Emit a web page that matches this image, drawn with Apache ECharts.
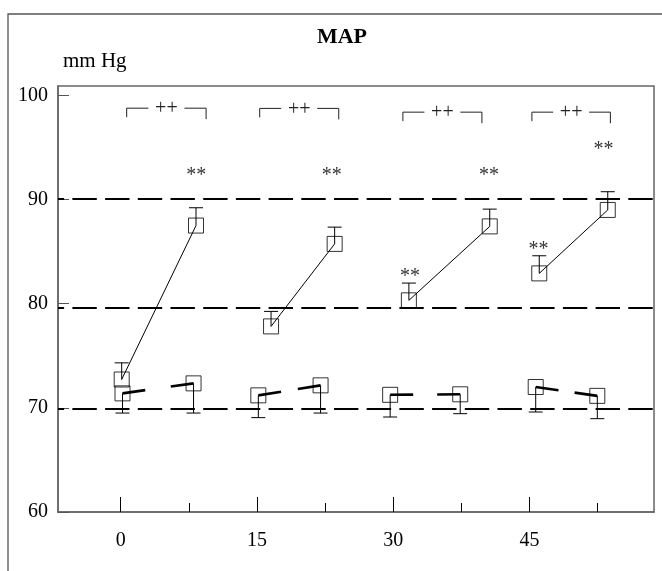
<!DOCTYPE html>
<html><head><meta charset="utf-8">
<script src="https://cdn.jsdelivr.net/npm/echarts@6/dist/echarts.min.js"></script>
<style>html,body{margin:0;padding:0;background:#fff}#c{width:662px;height:571px}</style>
</head><body><div id="c"></div>
<script>
const FONT = "'Liberation Serif', 'Times New Roman', Times, serif";

// axis ticks / labels
const timeTicks = [0, 15, 30, 45];
const minorTicks = [7.5, 22.5, 37.5, 52.5];
const yTicks = [60, 70, 80, 90, 100];
const refLines = [69.9, 79.6, 90.1];

// upper group (open squares, thin line, SD upward)
const upperX    = [0.11, 8.29, 16.55, 23.55, 31.72, 40.62, 46.07, 53.61];
const upperMean = [72.72, 87.5, 77.82, 85.74, 80.32, 87.42, 82.91, 89.0];
const upperSD   = [74.32, 89.21, 79.26, 87.35, 81.98, 89.08, 84.6, 90.75];

// lower group (open squares, thick broken line, SD downward)
const lowerX    = [0.2, 8.02, 15.15, 22.0, 29.66, 37.37, 45.68, 52.46];
const lowerMean = [71.39, 72.35, 71.2, 72.16, 71.25, 71.3, 72.0, 71.15];
const lowerSD   = [69.5, 69.5, 69.06, 69.5, 69.12, 69.44, 69.6, 68.96];

// significance annotations
const bracketStart = [0.66, 15.3, 31.06, 45.26];
const bracketEnd   = [9.4, 24.0, 39.76, 53.9];
const bracketY     = [98.77, 98.75, 98.39, 98.39];
const bracketText  = ['++', '++', '++', '++'];
const starX = [8.33, 23.24, 31.85, 40.54, 45.99, 53.15];
const starY = [92.67, 92.67, 83.0, 92.67, 85.55, 95.16];
const starText = ['**', '**', '**', '**', '**', '**'];

const pairs = (xs, ys) => [0, 1, 2, 3].map(i => [xs[2*i], ys[2*i], xs[2*i+1], ys[2*i+1]]);

const chart = echarts.init(document.getElementById('c'), null, {renderer: 'canvas'});

function errRender(params, api) {
  const p = api.coord([api.value(0), api.value(1)]);
  const q = api.coord([api.value(0), api.value(2)]);
  return {type: 'group', children: [
    {type: 'line', shape: {x1: p[0], y1: p[1], x2: q[0], y2: q[1]}, style: {stroke: '#000', lineWidth: 1}},
    {type: 'line', shape: {x1: q[0] - 7, y1: q[1], x2: q[0] + 7, y2: q[1]}, style: {stroke: '#000', lineWidth: 1}}
  ]};
}
function thinPairRender(params, api) {
  const p = api.coord([api.value(0), api.value(1)]);
  const q = api.coord([api.value(2), api.value(3)]);
  return {type: 'line', shape: {x1: p[0], y1: p[1], x2: q[0], y2: q[1]}, style: {stroke: '#000', lineWidth: 1}};
}
function brokenPairRender(params, api) {
  const p = api.coord([api.value(0), api.value(1)]);
  const q = api.coord([api.value(2), api.value(3)]);
  const dx = q[0] - p[0], dy = q[1] - p[1];
  const len = Math.sqrt(dx*dx + dy*dy);
  const seg = 23;
  const ux = dx / len * seg, uy = dy / len * seg;
  const st = {stroke: '#000', lineWidth: 2.6};
  return {type: 'group', children: [
    {type: 'line', shape: {x1: p[0], y1: p[1], x2: p[0] + ux, y2: p[1] + uy}, style: st},
    {type: 'line', shape: {x1: q[0] - ux, y1: q[1] - uy, x2: q[0], y2: q[1]}, style: st}
  ]};
}
function bracketRender(params, api) {
  const p = api.coord([api.value(0), api.value(2)]);
  const q = api.coord([api.value(1), api.value(2)]);
  const cx = (p[0] + q[0]) / 2, y = p[1];
  const st = {stroke: '#222', lineWidth: 1};
  return {type: 'group', children: [
    {type: 'line', shape: {x1: p[0], y1: y, x2: cx - 18, y2: y}, style: st},
    {type: 'line', shape: {x1: cx + 18, y1: y, x2: q[0], y2: y}, style: st},
    {type: 'line', shape: {x1: p[0], y1: y, x2: p[0], y2: y + 9}, style: st},
    {type: 'line', shape: {x1: q[0], y1: y, x2: q[0], y2: y + 11}, style: st},
    {type: 'text', x: cx, y: y + 1, style: {text: bracketText[params.dataIndex], font: '20px ' + FONT, fill: '#222', align: 'center', verticalAlign: 'middle'}}
  ]};
}
function starRender(params, api) {
  const p = api.coord([api.value(0), api.value(1)]);
  return {type: 'text', x: p[0], y: p[1] + 4, style: {text: starText[params.dataIndex], font: '20px ' + FONT, fill: '#333', align: 'center', verticalAlign: 'middle'}};
}

const axisGray = '#666';
const option = {
  animation: false,
  backgroundColor: '#fff',
  grid: {left: 58, top: 86, right: 8, bottom: 59, show: true, borderColor: axisGray, borderWidth: 1.5, containLabel: false},
  graphic: [
    {type: 'rect', shape: {x: 8, y: 14, width: 700, height: 600}, style: {fill: 'none', stroke: '#555', lineWidth: 1.3}, silent: true, z: -1},
    {type: 'text', x: 342, y: 37, style: {text: 'MAP', font: 'bold 22px ' + FONT, fill: '#000', align: 'center', verticalAlign: 'middle'}},
    {type: 'text', x: 63, y: 61, style: {text: 'mm Hg', font: '21px ' + FONT, fill: '#000', align: 'left', verticalAlign: 'middle'}}
  ],
  xAxis: [
    {type: 'value', min: -6.9, max: 58.7, position: 'bottom',
      axisLine: {show: true, onZero: false, lineStyle: {color: axisGray, width: 1.5}},
      axisTick: {show: true, inside: true, length: 15, customValues: timeTicks, lineStyle: {color: '#000', width: 1}},
      axisLabel: {show: true, customValues: timeTicks, margin: 19, fontSize: 20, fontFamily: FONT, color: '#000'},
      splitLine: {show: false}},
    {type: 'value', min: -6.9, max: 58.7, position: 'bottom',
      axisLine: {show: false, onZero: false},
      axisTick: {show: true, inside: true, length: 9, customValues: minorTicks, lineStyle: {color: '#000', width: 1}},
      axisLabel: {show: false},
      splitLine: {show: false}}
  ],
  yAxis: {type: 'value', min: 60, max: 100.9, position: 'left',
    axisLine: {show: true, onZero: false, lineStyle: {color: axisGray, width: 1.5}},
    axisTick: {show: true, inside: true, length: 11, customValues: yTicks, lineStyle: {color: '#555', width: 1}},
    axisLabel: {show: true, customValues: yTicks, margin: 10, fontSize: 20, fontFamily: FONT, color: '#000'},
    splitLine: {show: false}},
  series: [
    {type: 'scatter', name: 'upper', data: upperX.map((x, i) => [x, upperMean[i]]),
      symbol: 'rect', symbolSize: 15, itemStyle: {color: 'rgba(0,0,0,0)', borderColor: '#000', borderWidth: 1}, z: 5,
      markLine: {silent: true, symbol: 'none', label: {show: false}, animation: false,
        lineStyle: {type: [24.4, 8.3], dashOffset: 18.3, width: 2, color: '#000'},
        data: refLines.map(v => ({yAxis: v}))}},
    {type: 'scatter', name: 'lower', data: lowerX.map((x, i) => [x, lowerMean[i]]),
      symbol: 'rect', symbolSize: 15, itemStyle: {color: 'rgba(0,0,0,0)', borderColor: '#000', borderWidth: 1}, z: 5},
    {type: 'custom', name: 'upperLines', renderItem: thinPairRender, data: pairs(upperX, upperMean), z: 4},
    {type: 'custom', name: 'lowerLines', renderItem: brokenPairRender, data: pairs(lowerX, lowerMean), z: 4},
    {type: 'custom', name: 'upperSD', renderItem: errRender, data: upperX.map((x, i) => [x, upperMean[i], upperSD[i]]), z: 4},
    {type: 'custom', name: 'lowerSD', renderItem: errRender, data: lowerX.map((x, i) => [x, lowerMean[i], lowerSD[i]]), z: 4},
    {type: 'custom', name: 'brackets', renderItem: bracketRender, data: bracketStart.map((s, i) => [s, bracketEnd[i], bracketY[i]]), z: 4},
    {type: 'custom', name: 'stars', renderItem: starRender, data: starX.map((x, i) => [x, starY[i]]), z: 4}
  ]
};
chart.setOption(option);
</script>
</body></html>
